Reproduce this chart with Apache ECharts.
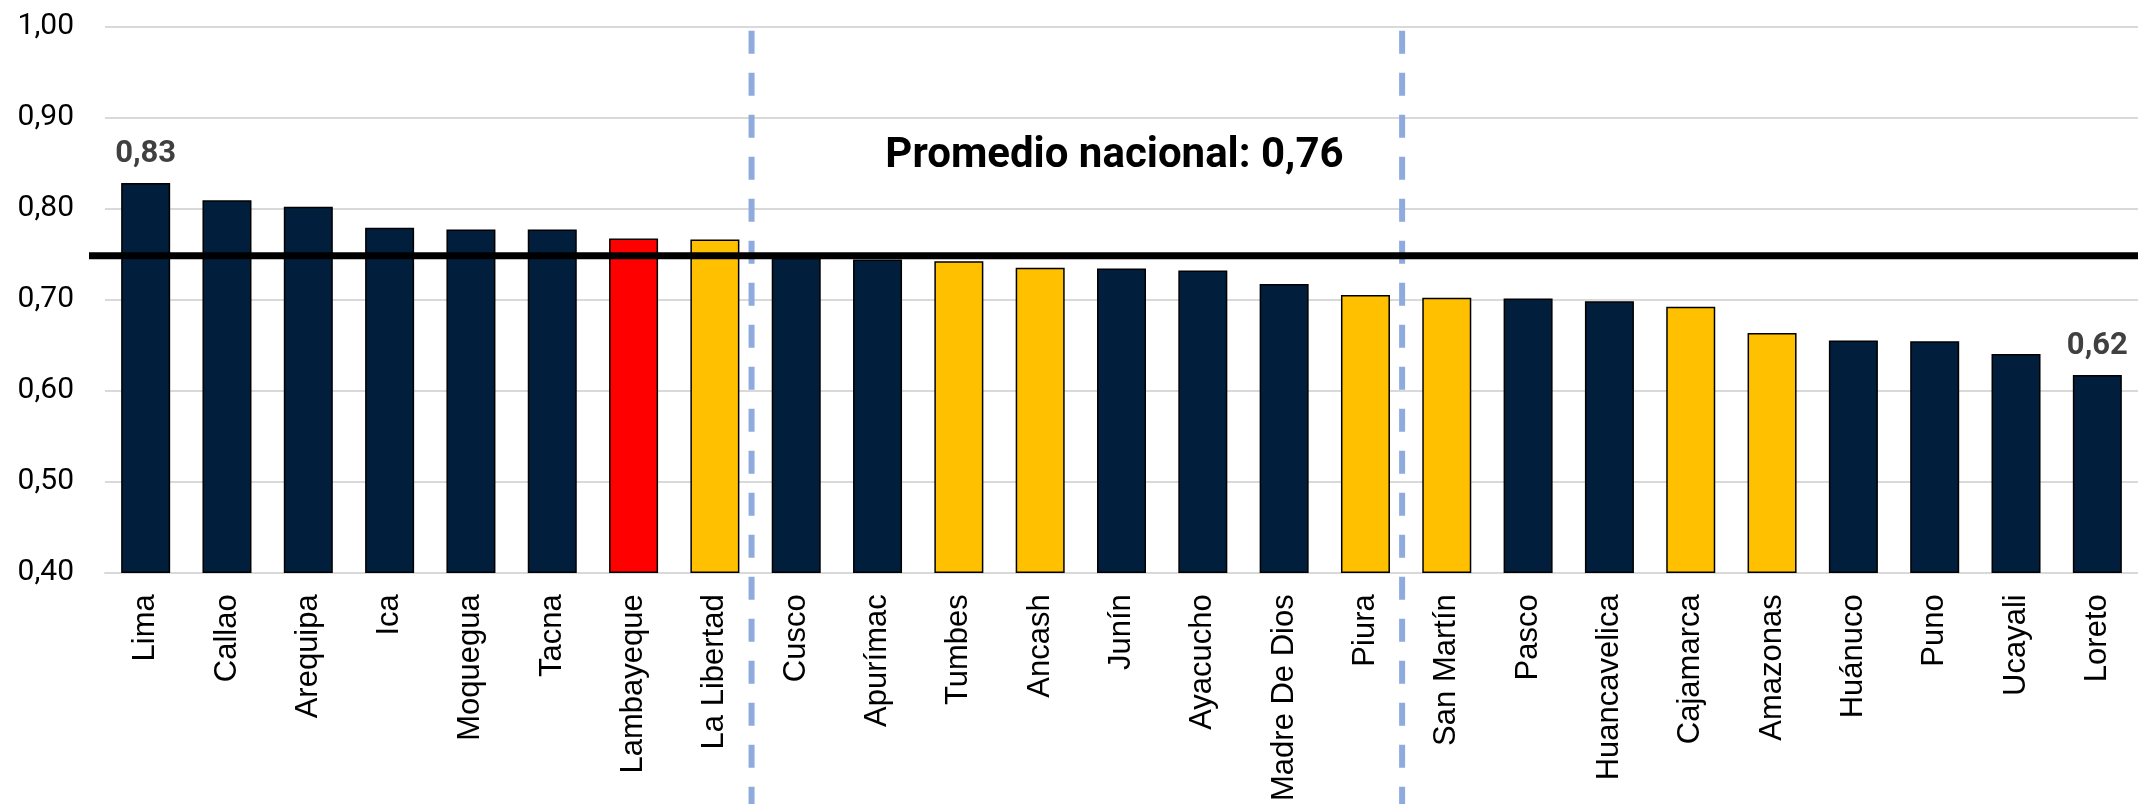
<!DOCTYPE html>
<html><head><meta charset="utf-8">
<script src="https://cdn.jsdelivr.net/npm/echarts@6/dist/echarts.min.js"></script>
<style>html,body{margin:0;padding:0;background:#fff}#c{width:2138px;height:804px}</style>
</head><body><div id="c"></div>
<script>
const categories = ['Lima','Callao','Arequipa','Ica','Moquegua','Tacna','Lambayeque','La Libertad','Cusco','Apurímac','Tumbes','Ancash','Junín','Ayacucho','Madre De Dios','Piura','San Martín','Pasco','Huancavelica','Cajamarca','Amazonas','Huánuco','Puno','Ucayali','Loreto'];
const values = [0.828,0.809,0.802,0.779,0.777,0.777,0.767,0.766,0.746,0.744,0.742,0.735,0.734,0.732,0.717,0.705,0.702,0.701,0.698,0.692,0.663,0.655,0.654,0.640,0.617];
const groups = ['n','n','n','n','n','n','r','y','n','n','y','y','n','n','n','y','y','n','n','y','y','n','n','n','n'];
const barLabels = ['0,83','','','','','','','','','','','','','','','','','','','','','','','','0,62'];
const yMin = 0.4, yMax = 1.0, yStep = 0.1;
const nationalAverageLine = 0.748;
const nationalAverageText = 'Promedio nacional: 0,76';
const dividerAfter = [7, 15];

const colorMap = { n: '#011F3C', y: '#FFC000', r: '#FF0000' };

const chart = echarts.init(document.getElementById('c'), null, { renderer: 'canvas' });
const option = {
  animation: false,
  backgroundColor: '#fff',
  grid: { left: 105, top: 26.7, width: 2043, height: 547.3, containLabel: false },
  xAxis: {
    type: 'category', data: categories,
    axisLine: { show: true, lineStyle: { color: '#D9D9D9', width: 2 } },
    axisTick: { show: false },
    axisLabel: { rotate: 90, margin: 22, fontSize: 31, color: '#000', fontFamily: 'Liberation Sans, Arial, sans-serif', interval: 0 }
  },
  yAxis: {
    type: 'value', min: yMin, max: yMax, interval: yStep,
    axisLine: { show: false }, axisTick: { show: false },
    splitLine: { lineStyle: { color: '#D9D9D9', width: 2 } },
    axisLabel: { margin: 31, fontSize: 30, color: '#000', fontFamily: 'Roboto, sans-serif',
      formatter: v => v.toFixed(2).replace('.', ',') }
  },
  series: [{
    type: 'bar', barWidth: 49,
    data: values.map((v, i) => ({ value: v, itemStyle: { color: colorMap[groups[i]] } })),
    itemStyle: { borderColor: '#000', borderWidth: 1.5 },
    label: { show: true, position: 'top', distance: 13, fontSize: 31, fontWeight: 'bold', color: '#404040',
      fontFamily: 'Roboto, sans-serif', formatter: p => barLabels[p.dataIndex] }
  }]
};
chart.setOption(option);

const px = (i, v) => chart.convertToPixel({ gridIndex: 0 }, [i, v]);
const graphics = [];
dividerAfter.forEach(k => {
  const x = (px(k, yMax)[0] + px(k + 1, yMax)[0]) / 2 - 4;
  const yTop = px(k, yMax)[1] + 4;
  graphics.push({ type: 'line', z: 50, shape: { x1: x, y1: yTop, x2: x, y2: 804 },
    style: { stroke: '#8FAADC', lineWidth: 6, lineDash: [23, 19] } });
});
const yAvg = px(0, nationalAverageLine)[1];
graphics.push({ type: 'line', z: 60, shape: { x1: 89, y1: yAvg, x2: 2138, y2: yAvg },
  style: { stroke: '#000', lineWidth: 7 } });
const tp = px(12, 0.857);
graphics.push({ type: 'text', z: 70, x: tp[0] - 7, y: tp[1],
  style: { text: nationalAverageText, fontSize: 42, fontWeight: 'bold', fill: '#000',
    fontFamily: 'Roboto, sans-serif', textAlign: 'center', textVerticalAlign: 'middle' } });
chart.setOption({ graphic: graphics });
</script></body></html>
